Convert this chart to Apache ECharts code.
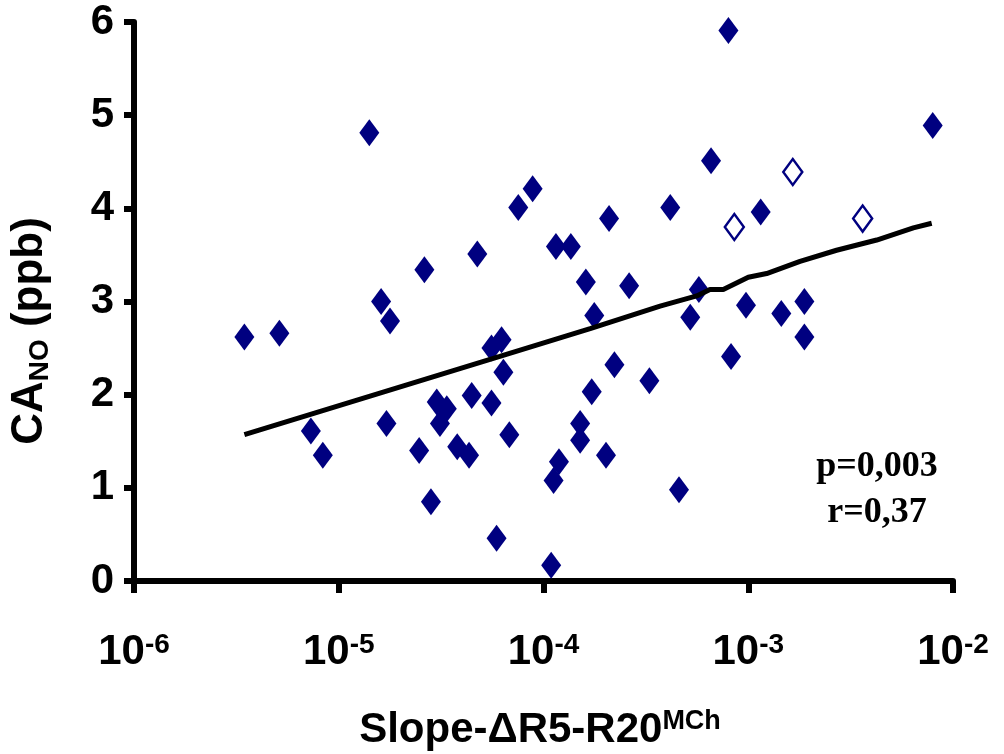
<!DOCTYPE html>
<html>
<head>
<meta charset="utf-8">
<script src="https://cdn.jsdelivr.net/npm/echarts@6/dist/echarts.min.js"></script>
<style>
  html, body { margin: 0; padding: 0; background: #fff; }
  #main { width: 1004px; height: 754px; }
</style>
</head>
<body>
<div id="main"></div>
<script>
// 实心点 (x = Slope-ΔR5-R20, y = CA_NO)
const slopeX = [
  3.46e-6, 5.13e-6, 7.31e-6, 8.36e-6, 1.41e-5, 1.61e-5, 1.78e-5, 1.71e-5, 2.62e-5, 2.47e-5,
  2.82e-5, 3.01e-5, 3.37e-5, 3.12e-5, 3.79e-5, 4.33e-5, 4.46e-5, 4.75e-5, 5.57e-5, 5.57e-5,
  6.24e-5, 6.37e-5, 6.81e-5, 5.90e-5, 7.53e-5, 8.85e-5, 1.09e-4, 1.12e-4, 1.19e-4, 1.15e-4,
  1.36e-4, 1.51e-4, 1.51e-4, 1.61e-4, 1.72e-4, 1.77e-4, 2.02e-4, 2.09e-4, 2.22e-4, 2.62e-4,
  3.29e-4, 4.16e-4, 4.59e-4, 5.21e-4, 5.74e-4, 6.58e-4, 8.00e-4, 8.24e-4, 9.75e-4, 1.15e-3,
  1.45e-3, 1.88e-3, 1.88e-3, 7.96e-3
];
const canoY = [
  2.62, 2.66, 1.61, 1.35, 4.81, 3.00, 2.79, 1.69, 3.34, 1.40,
  0.85, 1.92, 1.85, 1.69, 1.44, 1.35, 1.99, 3.51, 1.91, 2.50,
  2.59, 2.24, 1.57, 0.46, 4.01, 4.21, 0.17, 1.08, 1.28, 3.59,
  3.59, 1.69, 1.51, 3.21, 2.03, 2.85, 1.35, 3.89, 2.32, 3.17,
  2.15, 4.01, 0.98, 2.83, 3.13, 4.51, 5.91, 2.41, 2.96, 3.96,
  2.87, 3.00, 2.62, 4.89
];
// 空心点
const openX = [8.55e-4, 1.65e-3, 3.62e-3];
const openY = [3.80, 4.39, 3.89];
// 拟合线
const fitX = [3.46e-6, 6.12e-5, 1.69e-4, 3.71e-4, 5.60e-4, 6.50e-4, 7.55e-4, 1.00e-3, 1.23e-3, 1.79e-3, 2.70e-3, 4.24e-3, 6.40e-3, 7.87e-3];
const fitY = [1.57, 2.41, 2.71, 2.95, 3.06, 3.13, 3.13, 3.26, 3.30, 3.43, 3.55, 3.66, 3.79, 3.84];
const yTicks = [0, 1, 2, 3, 4, 5, 6];
const statLines = ['p=0,003', 'r=0,37'];

const NAVY = '#000080';
const SANS = '"Liberation Sans", Arial, sans-serif';
const SERIF = '"Liberation Serif", "Times New Roman", serif';

const zip = (xs, ys) => xs.map((x, i) => [x, ys[i]]);

const myChart = echarts.init(document.getElementById('main'));
myChart.setOption({
  animation: false,
  grid: { left: 134, top: 22, width: 819, height: 559 },
  xAxis: {
    type: 'log',
    logBase: 10,
    min: 1e-6,
    max: 1e-2,
    splitLine: { show: false },
    minorTick: { show: false },
    axisLine: { lineStyle: { color: '#000', width: 6 } },
    axisTick: { length: 12, lineStyle: { color: '#000', width: 6 } },
    axisLabel: {
      margin: 50,
      formatter: v => '{b|10}{s|' + Math.round(Math.log10(v)) + '}',
      rich: {
        b: { fontFamily: SANS, fontWeight: 'bold', fontSize: 42, color: '#000', lineHeight: 42 },
        s: { fontFamily: SANS, fontWeight: 'bold', fontSize: 28, color: '#000', verticalAlign: 'top', padding: [0, 0, 14, 0] }
      }
    }
  },
  yAxis: {
    type: 'value',
    min: yTicks[0],
    max: yTicks[yTicks.length - 1],
    interval: 1,
    splitLine: { show: false },
    axisLine: { lineStyle: { color: '#000', width: 6 } },
    axisTick: { show: true, length: 10, lineStyle: { color: '#000', width: 6 } },
    axisLabel: { margin: 20, fontFamily: SANS, fontWeight: 'bold', fontSize: 42, color: '#000' }
  },
  graphic: [
    {
      type: 'text',
      x: 30, y: 331,
      rotation: Math.PI / 2,
      style: {
        text: '{m|CA}{sub|NO}{m| (ppb)}',
        align: 'center',
        verticalAlign: 'middle',
        rich: {
          m: { fontFamily: SANS, fontWeight: 'bold', fontSize: 44, fill: '#000', lineHeight: 50 },
          sub: { fontFamily: SANS, fontWeight: 'bold', fontSize: 28, fill: '#000', padding: [20, 0, 0, 0] }
        }
      }
    },
    {
      type: 'text',
      x: 540, y: 730,
      style: {
        text: '{m|Slope-ΔR5-R20}{sup|MCh}',
        align: 'center',
        verticalAlign: 'middle',
        rich: {
          m: { fontFamily: SANS, fontWeight: 'bold', fontSize: 42, fill: '#000', lineHeight: 46 },
          sup: { fontFamily: SANS, fontWeight: 'bold', fontSize: 27, fill: '#000', padding: [0, 0, 17, 0] }
        }
      }
    },
    {
      type: 'text',
      x: 877, y: 490,
      style: {
        text: statLines.join('\n'),
        align: 'center',
        verticalAlign: 'middle',
        fontFamily: SERIF,
        fontWeight: 'bold',
        fontSize: 36,
        lineHeight: 46,
        fill: '#000'
      }
    }
  ],
  series: [
    {
      type: 'scatter',
      data: zip(slopeX, canoY),
      symbol: 'diamond',
      symbolSize: [20, 27],
      itemStyle: { color: NAVY, opacity: 1 }
    },
    {
      type: 'scatter',
      data: zip(openX, openY),
      symbol: 'diamond',
      symbolSize: [19, 26],
      itemStyle: { color: '#fff', borderColor: NAVY, borderWidth: 2.5, opacity: 1 }
    },
    {
      type: 'line',
      data: zip(fitX, fitY),
      showSymbol: false,
      symbol: 'none',
      z: 5,
      lineStyle: { color: '#000', width: 5 }
    }
  ]
});
</script>
</body>
</html>
